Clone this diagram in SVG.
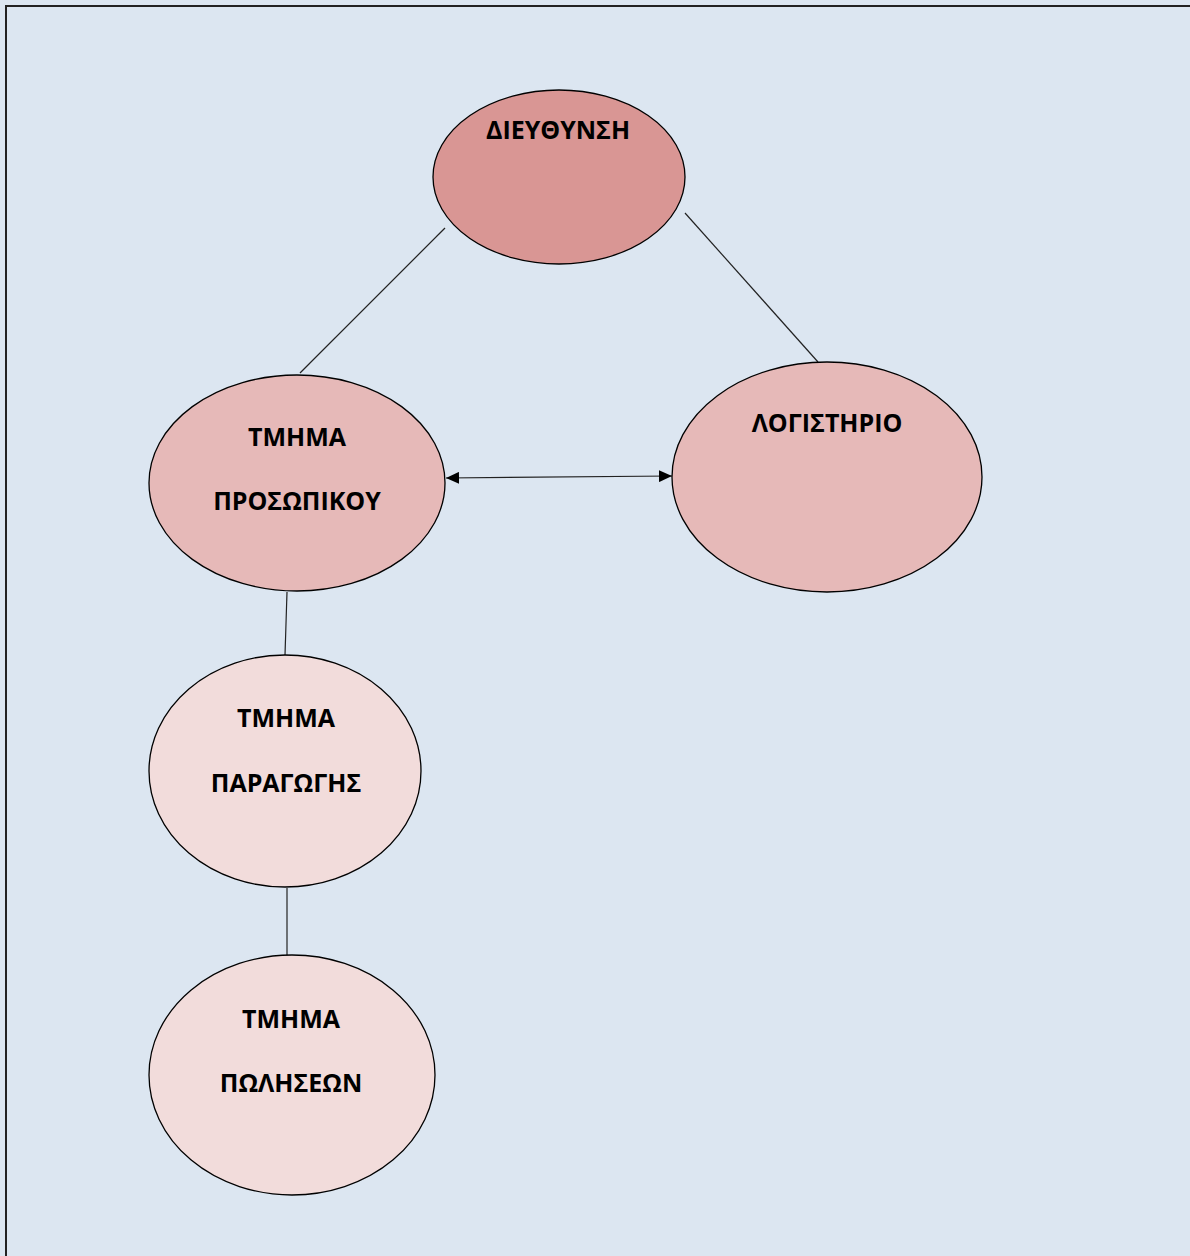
<svg xmlns="http://www.w3.org/2000/svg" width="1190" height="1256" viewBox="0 0 1190 1256">
<style>
.n{stroke:#000;stroke-width:1.3}
.t{font-family:"Open Sans","Liberation Sans",sans-serif;font-weight:bold;font-size:25px;fill:#000;text-anchor:middle}
.c{stroke:#222;stroke-width:1.2;fill:none}
</style>
<defs>
<marker id="ah" viewBox="0 0 13 12" refX="13" refY="6" markerWidth="13" markerHeight="12" markerUnits="userSpaceOnUse" orient="auto-start-reverse">
<path d="M0,0 L13,6 L0,12 Z" fill="#000"/>
</marker>
</defs>
<rect x="0" y="0" width="1190" height="1256" fill="#DCE6F1"/>
<rect x="6" y="6" width="1200" height="1260" fill="none" stroke="#222" stroke-width="2"/>
<g id="connectors">
<line class="c" x1="445" y1="228" x2="300" y2="373"/>
<line class="c" x1="685" y1="213" x2="818" y2="362"/>
<line class="c" x1="287" y1="592" x2="285" y2="655"/>
<line class="c" x1="287" y1="888" x2="287" y2="955"/>
<line class="c" x1="446" y1="478" x2="672" y2="476" stroke-width="2" marker-start="url(#ah)" marker-end="url(#ah)"/>
</g>
<g id="dieythynsi">
<ellipse class="n" cx="559" cy="177" rx="126" ry="87" fill="#D99694"/>
<text class="t" x="558" y="139">ΔΙΕΥΘΥΝΣΗ</text>
</g>
<g id="prosopikou">
<ellipse class="n" cx="297" cy="483" rx="148" ry="108" fill="#E6B9B8"/>
<text class="t" x="297" y="446">ΤΜΗΜΑ</text>
<text class="t" x="297" y="510">ΠΡΟΣΩΠΙΚΟΥ</text>
</g>
<g id="logistirio">
<ellipse class="n" cx="827" cy="477" rx="155" ry="115" fill="#E6B9B8"/>
<text class="t" x="827" y="432">ΛΟΓΙΣΤΗΡΙΟ</text>
</g>
<g id="paragogis">
<ellipse class="n" cx="285" cy="771" rx="136" ry="116" fill="#F2DCDB"/>
<text class="t" x="286" y="727">ΤΜΗΜΑ</text>
<text class="t" x="286" y="792">ΠΑΡΑΓΩΓΗΣ</text>
</g>
<g id="poliseon">
<ellipse class="n" cx="292" cy="1075" rx="143" ry="120" fill="#F2DCDB"/>
<text class="t" x="291" y="1028">ΤΜΗΜΑ</text>
<text class="t" x="291" y="1092">ΠΩΛΗΣΕΩΝ</text>
</g>
</svg>
